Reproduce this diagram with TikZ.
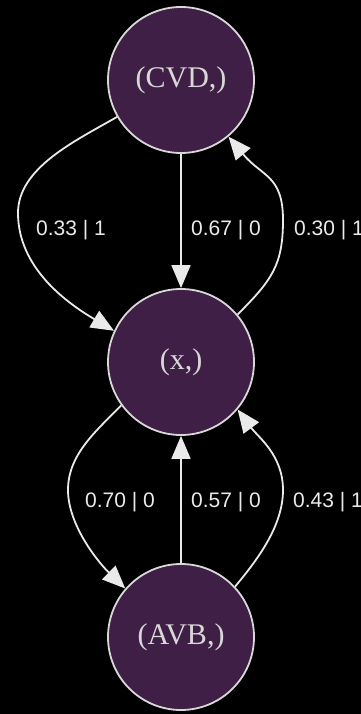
\documentclass[tikz,border=0pt]{standalone}
\usepackage{fontspec}
\setmainfont{Liberation Serif}
\newfontfamily\labfont{Liberation Sans}
\usetikzlibrary{arrows.meta}
\definecolor{nodefill}{HTML}{3F1F45}
\definecolor{nodeline}{HTML}{D8D8D8}
\definecolor{edgecol}{HTML}{EAEAEA}
\begin{document}
\begin{tikzpicture}[x=1pt,y=1pt,
  state/.style={circle, draw=nodeline, line width=1.8pt, fill=nodefill, minimum size=146pt, inner sep=0pt, text=nodeline, font=\fontsize{30}{36}\selectfont},
  edge/.style={draw=edgecol, line width=1.8pt, -{Triangle[length=23pt,width=19pt]}},
  elabel/.style={anchor=base west, inner sep=0pt, text=edgecol, font=\labfont\fontsize{21}{25}\selectfont}]
\fill[black] (0,0) rectangle (361,-714);
\useasboundingbox (0,0) rectangle (361,-714);
\node[state] (cvd) at (181,-80) {(CVD,)};
\node[state] (x) at (181,-362) {(x,)};
\node[state] (avb) at (181,-637) {(AVB,)};
% upper edges
\draw[edge] (cvd) -- (x);
\draw[edge] (cvd.210) .. controls (75,-141) and (18,-168) .. (18,-213) .. controls (18,-268) and (67,-303) .. (x.155);
\draw[edge] (x.40) .. controls (272,-280) and (283,-265) .. (283,-220) .. controls (283,-175) and (262,-177) .. (cvd.-50);
% lower edges
\draw[edge] (x.216) .. controls (95,-432) and (68,-455) .. (68,-490) .. controls (68,-525) and (98,-562) .. (avb.139);
\draw[edge] (avb) -- (x);
\draw[edge] (avb.43) .. controls (259,-558) and (283,-525) .. (283,-490) .. controls (283,-455) and (258,-437) .. (x.-40);
% labels
\node[elabel] (l1) at (36,-235) {0.33 | 1};
\node[elabel] (l2) at (191,-235) {0.67 | 0};
\node[elabel] (l3) at (294,-235) {0.30 | 1};
\node[elabel] (l4) at (85,-507) {0.70 | 0};
\node[elabel] (l5) at (191,-507) {0.57 | 0};
\node[elabel] (l6) at (293,-507) {0.43 | 1};
\end{tikzpicture}
\end{document}
